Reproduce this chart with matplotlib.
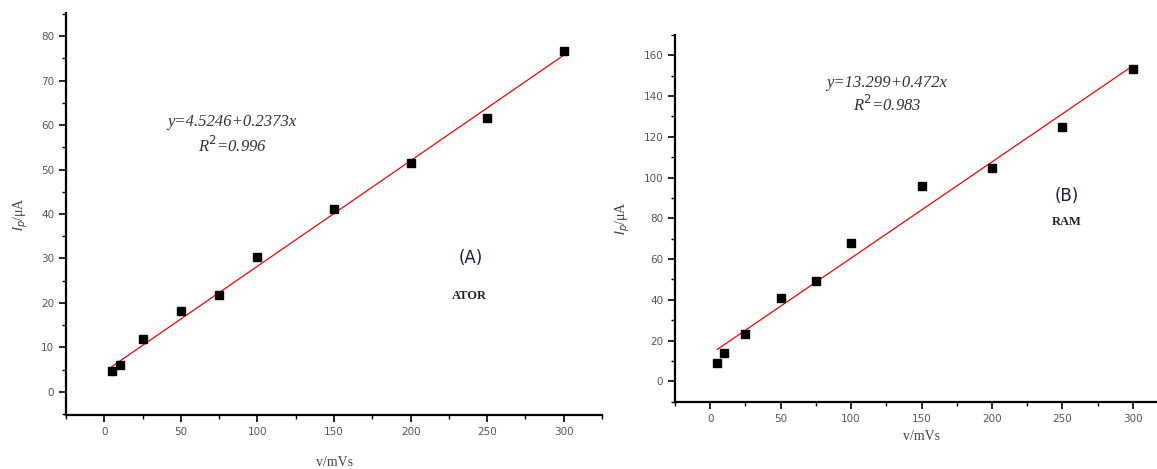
import numpy as np
import matplotlib.pyplot as plt
from matplotlib.ticker import MultipleLocator

# scan rates (mV/s)
scan_rate = [5, 10, 25, 50, 75, 100, 150, 200, 250, 300]

# peak currents (uA)
ip_ator = [4.6, 6.0, 11.9, 18.1, 21.8, 30.3, 41.1, 51.4, 61.7, 76.6]
ip_ram = [9.2, 14.1, 23.1, 40.7, 49.1, 68.0, 95.9, 104.9, 124.6, 153.2]

# linear fits as printed on the figure
fit_ator = (4.5246, 0.2373)
fit_ram = (13.299, 0.472)

eq_ator = ["y=4.5246+0.2373x", "R$^{2}$=0.996"]
eq_ram = ["y=13.299+0.472x", "R$^{2}$=0.983"]


def style_axis(ax, xlim, ylim, ymajor, yminor):
    ax.set_xlim(*xlim)
    ax.set_ylim(*ylim)
    ax.xaxis.set_major_locator(MultipleLocator(50))
    ax.xaxis.set_minor_locator(MultipleLocator(25))
    ax.yaxis.set_major_locator(MultipleLocator(ymajor))
    ax.yaxis.set_minor_locator(MultipleLocator(yminor))
    for s in ['top', 'right']:
        ax.spines[s].set_visible(False)
    for s in ['left', 'bottom']:
        ax.spines[s].set_linewidth(1.6)
    ax.tick_params(which='major', direction='out', length=5, width=1.2,
                   labelsize=7.5, labelcolor='#555555')
    ax.tick_params(which='minor', direction='out', length=3, width=1.0)
    # only label ticks inside the data range
    ax.set_xticks(np.arange(0, 301, 50))
    ax.set_yticks(np.arange(0, ylim[1], ymajor))


def panel(ax, y, fit, eq, eq_xy, tag, tag_xy, name, name_xy, xpad):
    x = np.array(scan_rate)
    ax.plot(x, fit[0] + fit[1] * x, color='red', lw=0.9, zorder=2)
    ax.plot(x, y, 's', color='black', ms=6, zorder=3)
    ax.text(eq_xy[0], eq_xy[1], eq[0], transform=ax.transAxes, ha='center', va='center',
            family='Liberation Serif', style='italic', fontsize=12, color='#333333')
    ax.text(eq_xy[0], eq_xy[1] - 0.06, eq[1], transform=ax.transAxes, ha='center', va='center',
            family='Liberation Serif', style='italic', fontsize=12, color='#333333')
    ax.text(tag_xy[0], tag_xy[1], tag, transform=ax.transAxes, ha='center', va='center',
            family='DejaVu Sans', fontsize=12, color='#1a1a40')
    ax.text(name_xy[0], name_xy[1], name, transform=ax.transAxes, ha='center', va='center',
            family='Liberation Serif', weight='bold', fontsize=9, color='#222222')
    ax.set_xlabel("v/mVs", family='Liberation Serif', fontsize=10, color='#444444', labelpad=xpad)
    ax.set_ylabel("$I_p$/μA", family='Liberation Serif', fontsize=10, color='#444444', labelpad=8)


fig = plt.figure(figsize=(11.57, 4.69), dpi=100)

ax1 = fig.add_axes([66 / 1157, 1 - 415 / 469, (602 - 66) / 1157, (415 - 13) / 469])
style_axis(ax1, (-25, 325), (-5.2, 85.2), 10, 5)
panel(ax1, ip_ator, fit_ator, eq_ator, (0.31, 0.73), "(A)", (0.755, 0.39), "ATOR", (0.752, 0.295), 14)

ax2 = fig.add_axes([675 / 1157, 1 - 401.7 / 469, (1168 - 675) / 1157, (401.7 - 35) / 469])
style_axis(ax2, (-25, 325), (-10, 170), 20, 10)
panel(ax2, ip_ram, fit_ram, eq_ram, (0.43, 0.87), "(B)", (0.795, 0.56), "RAM", (0.795, 0.49), 5)

fig.savefig('out.png', dpi=100)
